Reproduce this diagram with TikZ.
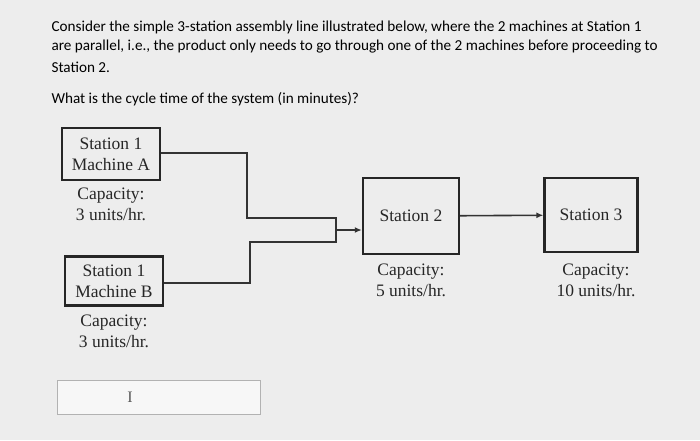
\documentclass[tikz,border=0pt]{standalone}
\usepackage{fontspec}
\setmainfont{Liberation Serif}
\newfontfamily\qfont{Carlito}
\usetikzlibrary{arrows.meta}
\begin{document}
\begin{tikzpicture}[x=1pt,y=-1pt,
  box/.style={draw=black!85,line width=2.4pt,inner sep=0pt},
  lbl/.style={font=\fontsize{17.5}{21}\selectfont,text=black!85},
  q/.style={font=\qfont\fontsize{15.2}{20}\selectfont,anchor=west,text=black},
  wire/.style={draw=black!80,line width=1.6pt},
  arr/.style={wire,-{Latex[length=7pt,width=6pt]}}]
\useasboundingbox (0,0) rectangle (700,440);
\fill[gray!14] (0,0) rectangle (700,440);
\node[q] (q1) at (48,27) {Consider the simple 3-station assembly line illustrated below, where the 2 machines at Station 1};
\node[q] (q2) at (48,47) {are parallel, i.e., the product only needs to go through one of the 2 machines before proceeding to};
\node[q] (q3) at (48,67) {Station 2.};
\node[q] (q4) at (48,99) {What is the cycle time of the system (in minutes)?};
\node[box,minimum width=98pt,minimum height=52pt,lbl,align=center] (ma) at (111,154) {Station 1\\Machine A};
\node[lbl,align=center] (ca) at (111,204) {Capacity:\\3 units/hr.};
\node[box,minimum width=98pt,minimum height=49pt,lbl,align=center] (mb) at (114,281) {Station 1\\Machine B};
\node[lbl,align=center] (cb) at (114,331) {Capacity:\\3 units/hr.};
\node[box,minimum width=96pt,minimum height=76pt,lbl] (s2) at (411,216) {Station 2};
\node[lbl,align=center] (c2) at (411,280) {Capacity:\\5 units/hr.};
\node[box,minimum width=93pt,minimum height=74pt,lbl] (s3) at (591,215) {Station 3};
\node[lbl,align=center] (c3) at (596,280) {Capacity:\\10 units/hr.};
\coordinate (j) at (336,230);
\draw[wire] (ma.east|-0,153) -- (247,153) -- (247,218) -- (336,218) -- (336,242) -- (250,242) -- (250,283) -- (mb.east|-0,283);
\draw[arr] (j) -- (s2.west|-j);
\draw[arr] (s2) -- (s3);
\node[draw=gray!60,fill=gray!6,minimum width=203pt,minimum height=34pt,inner sep=0pt] (in) at (158.5,397) {};
\node[font=\fontsize{16}{16}\selectfont,text=gray!70!black] (cur) at (130,397) {I};
\end{tikzpicture}
\end{document}
